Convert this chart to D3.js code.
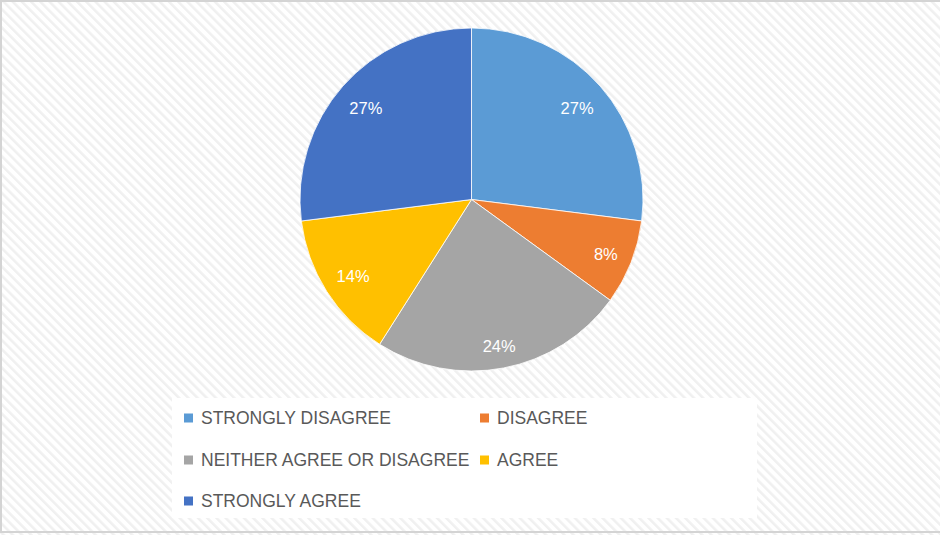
<!DOCTYPE html>
<html>
<head>
<meta charset="utf-8">
<script src="https://cdn.jsdelivr.net/npm/d3@7/dist/d3.min.js"></script>
<style>
  html, body { margin: 0; padding: 0; background: #fff; }
  svg { display: block; }
</style>
</head>
<body>
<svg id="chart" width="940" height="535"></svg>
<script>
// Survey responses
const categories = ["STRONGLY DISAGREE", "DISAGREE", "NEITHER AGREE OR DISAGREE", "AGREE", "STRONGLY AGREE"];
const values = [27, 8, 24, 14, 27];
const colors = ["#5B9BD5", "#ED7D31", "#A5A5A5", "#FFC000", "#4472C4"];

const W = 940, H = 535;
const cx = 471.5, cy = 199.5, R = 171.5;
const svg = d3.select("#chart");

// Diagonal hatch background
const defs = svg.append("defs");
const pat = defs.append("pattern")
  .attr("id", "hatch")
  .attr("patternUnits", "userSpaceOnUse")
  .attr("width", 6.5).attr("height", 6.5)
  .attr("patternTransform", "rotate(-45)");
pat.append("rect").attr("width", 6.5).attr("height", 6.5).attr("fill", "#ffffff");
pat.append("rect").attr("width", 2.5).attr("height", 6.5).attr("fill", "#f0f0f0");

svg.append("rect").attr("x", 0).attr("y", 0).attr("width", W).attr("height", H)
  .attr("fill", "url(#hatch)");
svg.append("rect").attr("x", 1).attr("y", 1).attr("width", W + 5).attr("height", 531)
  .attr("fill", "none").attr("stroke", "#d4d4d4").attr("stroke-width", 2);

// Pie
const pie = d3.pie().value(d => d).sort(null);
const arcs = pie(values);
const arc = d3.arc().innerRadius(0).outerRadius(R);

const g = svg.append("g").attr("transform", `translate(${cx},${cy})`);
g.selectAll("path.slice").data(arcs).join("path")
  .attr("class", "slice")
  .attr("d", arc)
  .attr("fill", (d, i) => colors[i])
  .attr("stroke", "#ffffff")
  .attr("stroke-width", 0.8);

// Labels placed near the outer edge, inside each slice
const fmt = d => d + "%";
const labelFont = "16.5px 'Liberation Sans', Arial, sans-serif";
const ctx = document.createElement("canvas").getContext("2d");
ctx.font = labelFont;
const pad = 13, lh = 16;
g.selectAll("text.lbl").data(arcs).join("text")
  .attr("class", "lbl")
  .each(function (d) {
    const a = (d.startAngle + d.endAngle) / 2;
    const ux = Math.sin(a), uy = -Math.cos(a);
    const w = ctx.measureText(fmt(d.data)).width;
    const ext = Math.abs(ux) * w / 2 + Math.abs(uy) * lh / 2;
    const dist = R - pad - ext;
    d3.select(this)
      .attr("x", ux * dist)
      .attr("y", uy * dist + 2)
      .attr("dy", "0.35em");
  })
  .attr("text-anchor", "middle")
  .attr("fill", "#ffffff")
  .style("font", labelFont)
  .text(d => fmt(d.data));

// Legend
const legend = svg.append("g");
legend.append("rect").attr("x", 172).attr("y", 398).attr("width", 585).attr("height", 120)
  .attr("fill", "#ffffff");
const colX = [184, 480];
const rowY = [418, 460, 501];
categories.forEach((c, i) => {
  const x = colX[i % 2], y = rowY[Math.floor(i / 2)];
  legend.append("rect").attr("x", x).attr("y", y - 4.5).attr("width", 9).attr("height", 9)
    .attr("fill", colors[i]);
  legend.append("text").attr("x", x + 17).attr("y", y).attr("dy", "0.35em")
    .attr("fill", "#595959")
    .style("font", "17.5px 'Liberation Sans', Arial, sans-serif")
    .text(c);
});
</script>
</body>
</html>
